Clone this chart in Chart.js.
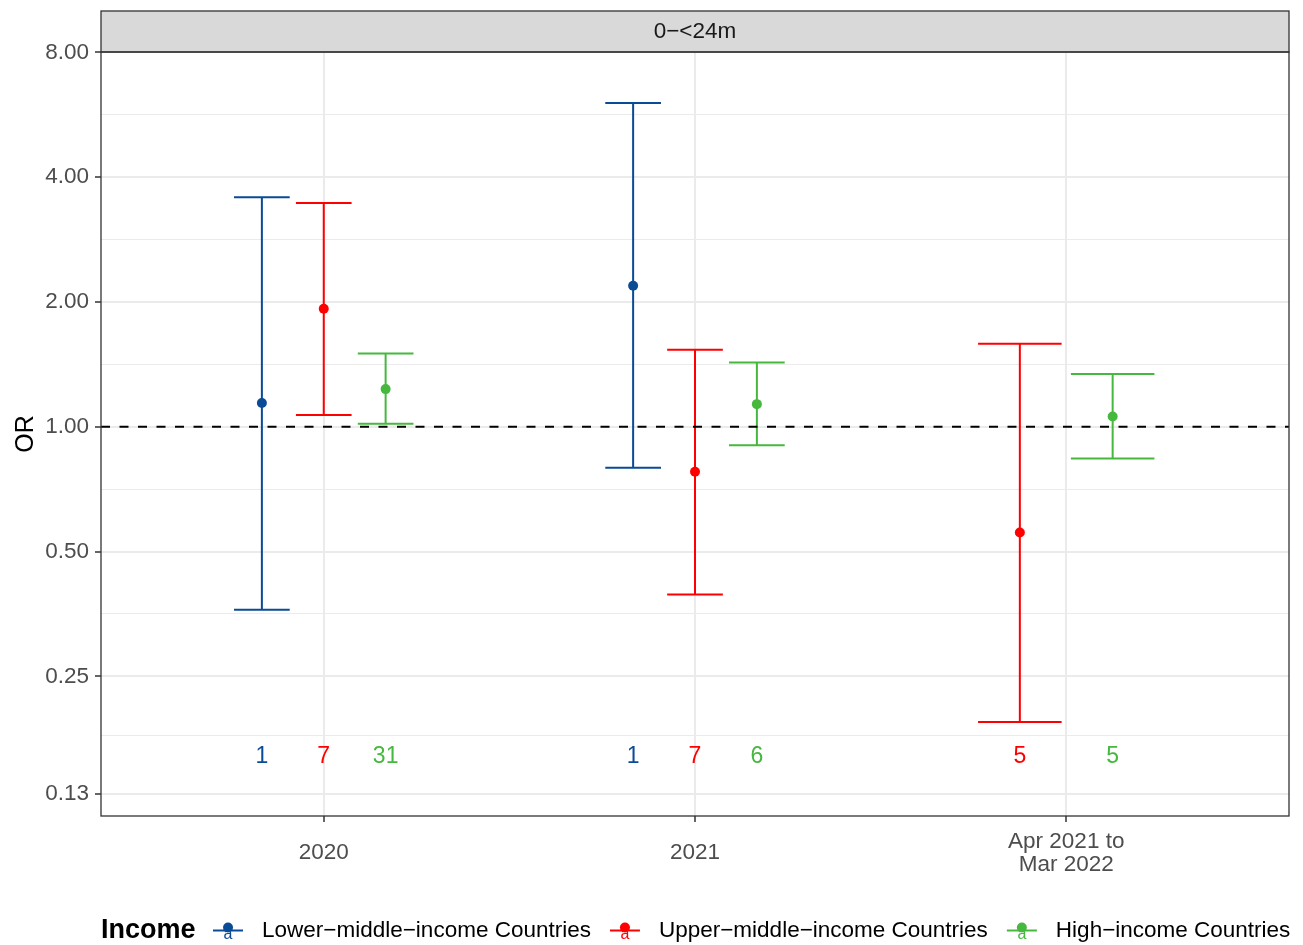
<!DOCTYPE html>
<html>
<head>
<meta charset="utf-8">
<script src="https://cdn.jsdelivr.net/npm/chart.js@4/dist/chart.umd.min.js"></script>
<style>
  html, body { margin: 0; padding: 0; background: #ffffff; }
  canvas { display: block; }
</style>
</head>
<body>
<canvas id="chart" width="1303" height="945"></canvas>
<script>
// ---- data ----
const categories = ['2020', '2021', ['Apr 2021 to', 'Mar 2022']];
const panelLabel = '0\u2212<24m';
const legendTitle = 'Income';
const seriesNames = [
  'Lower\u2212middle\u2212income Countries',
  'Upper\u2212middle\u2212income Countries',
  'High\u2212income Countries'
];
const seriesColors = ['#0A4B96', '#FF0000', '#45B83D'];

// odds ratio with 95% interval and number of studies, per category
const lowerMiddleOR   = [1.141, 2.189, null];
const lowerMiddleLow  = [0.362, 0.796, null];
const lowerMiddleHigh = [3.578, 6.040, null];
const lowerMiddleN    = [1, 1, null];

const upperMiddleOR   = [1.927, 0.779, 0.556];
const upperMiddleLow  = [1.067, 0.394, 0.194];
const upperMiddleHigh = [3.467, 1.534, 1.586];
const upperMiddleN    = [7, 7, 5];

const highOR   = [1.233, 1.134, 1.059];
const highLow  = [1.017, 0.902, 0.839];
const highHigh = [1.503, 1.430, 1.340];
const highN    = [31, 6, 5];

const yTickValues  = [0.13, 0.25, 0.5, 1, 2, 4, 8];
const yTickLabels  = ['0.13', '0.25', '0.50', '1.00', '2.00', '4.00', '8.00'];
const yMinorValues = [0.180, 0.354, 0.707, 1.414, 2.828, 5.657];
const referenceOR  = 1;
const countLabelY  = 0.161;

// ---- layout helpers ----
const FONT = '"Liberation Sans", Arial, Helvetica, sans-serif';
const dodgeWidth = 0.5;
const errorbarWidth = 0.45;

const seriesOR   = [lowerMiddleOR, upperMiddleOR, highOR];
const seriesLow  = [lowerMiddleLow, upperMiddleLow, highLow];
const seriesHigh = [lowerMiddleHigh, upperMiddleHigh, highHigh];
const seriesN    = [lowerMiddleN, upperMiddleN, highN];

// dodge positions: groups present in a category share the dodge width
const marks = [];
categories.forEach((cat, ci) => {
  const present = seriesOR.map((arr, si) => arr[ci] != null ? si : -1).filter(si => si >= 0);
  const n = present.length;
  const slot = dodgeWidth / n;
  present.forEach((si, k) => {
    marks.push({
      series: si,
      x: ci + 1 + (k - (n - 1) / 2) * slot,
      half: errorbarWidth / n / 2,
      or: seriesOR[si][ci],
      low: seriesLow[si][ci],
      high: seriesHigh[si][ci],
      n: seriesN[si][ci]
    });
  });
});

const datasets = seriesNames.map((name, si) => ({
  label: name,
  data: marks.filter(m => m.series === si).map(m => ({ x: m.x, y: m.or })),
  backgroundColor: seriesColors[si],
  borderColor: seriesColors[si],
  borderWidth: 0,
  pointRadius: 5,
  pointHoverRadius: 5,
  showLine: false
}));

const yAllTicks = yTickValues.concat(yMinorValues).sort((a, b) => a - b);
const isMajor = v => yTickValues.some(t => Math.abs(t - v) < 1e-9);

// ---- plugins ----
const errorBars = {
  id: 'errorBars',
  beforeDatasetsDraw(chart) {
    const { ctx, scales: { x, y }, chartArea } = chart;
    ctx.save();
    ctx.beginPath();
    ctx.rect(chartArea.left, chartArea.top, chartArea.right - chartArea.left, chartArea.bottom - chartArea.top);
    ctx.clip();
    ctx.lineWidth = 2;
    ctx.lineCap = 'butt';
    marks.forEach(m => {
      const px = x.getPixelForValue(m.x);
      const pl = x.getPixelForValue(m.x - m.half);
      const pr = x.getPixelForValue(m.x + m.half);
      const yl = y.getPixelForValue(m.low);
      const yh = y.getPixelForValue(m.high);
      ctx.strokeStyle = seriesColors[m.series];
      ctx.beginPath();
      ctx.moveTo(px, yl); ctx.lineTo(px, yh);
      ctx.moveTo(pl, yl); ctx.lineTo(pr, yl);
      ctx.moveTo(pl, yh); ctx.lineTo(pr, yh);
      ctx.stroke();
    });
    // study counts
    ctx.font = '23px ' + FONT;
    ctx.textAlign = 'center';
    ctx.textBaseline = 'middle';
    marks.forEach(m => {
      ctx.fillStyle = seriesColors[m.series];
      ctx.fillText(String(m.n), x.getPixelForValue(m.x), y.getPixelForValue(countLabelY) + 1);
    });
    ctx.restore();
  },
  afterDatasetsDraw(chart) {
    const { ctx, scales: { y }, chartArea } = chart;
    const yy = y.getPixelForValue(referenceOR);
    ctx.save();
    ctx.strokeStyle = '#000000';
    ctx.lineWidth = 2;
    ctx.setLineDash([9, 9.5]);
    ctx.beginPath();
    ctx.moveTo(chartArea.left, yy);
    ctx.lineTo(chartArea.right, yy);
    ctx.stroke();
    ctx.restore();
  }
};

const panelFrame = {
  id: 'panelFrame',
  afterDraw(chart) {
    const { ctx, chartArea: a } = chart;
    ctx.save();
    // facet strip
    const stripTop = 11;
    ctx.fillStyle = '#D9D9D9';
    ctx.fillRect(a.left, stripTop, a.right - a.left, a.top - stripTop);
    ctx.strokeStyle = '#333333';
    ctx.lineWidth = 1.3;
    ctx.strokeRect(a.left, stripTop, a.right - a.left, a.top - stripTop);
    ctx.fillStyle = '#1A1A1A';
    ctx.font = '22.5px ' + FONT;
    ctx.textAlign = 'center';
    ctx.textBaseline = 'middle';
    ctx.fillText(panelLabel, (a.left + a.right) / 2, (stripTop + a.top) / 2);
    // panel border
    ctx.strokeRect(a.left, a.top, a.right - a.left, a.bottom - a.top);

    // legend
    const ly = 930.5;
    ctx.textAlign = 'left';
    ctx.fillStyle = '#000000';
    ctx.font = 'bold 27px ' + FONT;
    let cx = a.left;
    ctx.fillText(legendTitle, cx, ly);
    cx += ctx.measureText(legendTitle).width + 17.5;
    seriesNames.forEach((name, si) => {
      const col = seriesColors[si];
      const kc = cx + 15;
      ctx.strokeStyle = col;
      ctx.lineWidth = 2;
      ctx.beginPath();
      ctx.moveTo(cx, ly); ctx.lineTo(cx + 30, ly);
      ctx.stroke();
      ctx.fillStyle = col;
      ctx.font = '16px ' + FONT;
      ctx.textAlign = 'center';
      ctx.fillText('a', kc, ly + 4);
      ctx.beginPath();
      ctx.arc(kc, ly - 3, 5, 0, Math.PI * 2);
      ctx.fill();
      ctx.textAlign = 'left';
      ctx.fillStyle = '#000000';
      ctx.font = '22.5px ' + FONT;
      const tx = cx + 49;
      ctx.fillText(name, tx, ly);
      cx = tx + ctx.measureText(name).width + 19;
    });
    ctx.restore();
  }
};

// ---- chart ----
new Chart(document.getElementById('chart'), {
  type: 'scatter',
  data: { datasets },
  plugins: [errorBars, panelFrame],
  options: {
    responsive: false,
    animation: false,
    events: [],
    layout: { padding: { left: 0, right: 14, top: 52, bottom: 0 } },
    plugins: { legend: { display: false }, tooltip: { enabled: false } },
    scales: {
      x: {
        type: 'linear',
        min: 0.4,
        max: 3.6,
        afterBuildTicks(scale) { scale.ticks = [1, 2, 3].map(v => ({ value: v })); },
        afterFit(scale) { scale.height = 129; },
        grid: {
          color: '#EBEBEB',
          lineWidth: 2,
          tickColor: '#333333',
          tickLength: 6,
          tickWidth: 1.5
        },
        border: { display: false },
        ticks: {
          autoSkip: false,
          maxRotation: 0,
          minRotation: 0,
          crossAlign: 'center',
          padding: 20,
          color: '#4D4D4D',
          font: { family: FONT, size: 22.5, lineHeight: 1.0 },
          callback: v => categories[Math.round(v) - 1]
        }
      },
      y: {
        type: 'logarithmic',
        min: 0.1151,
        max: 8.02,
        afterBuildTicks(scale) { scale.ticks = yAllTicks.map(v => ({ value: v })); },
        afterFit(scale) { scale.width = 101; },
        grid: {
          color: '#EBEBEB',
          lineWidth: ctx => (ctx.tick && isMajor(ctx.tick.value)) ? 2 : 1,
          tickColor: ctx => (ctx.tick && isMajor(ctx.tick.value)) ? '#333333' : 'rgba(0,0,0,0)',
          tickLength: 6,
          tickWidth: 1.5
        },
        border: { display: false },
        title: {
          display: true,
          text: 'OR',
          color: '#000000',
          font: { family: FONT, size: 25, lineHeight: 1.0 },
          padding: { top: 14, bottom: 0 }
        },
        ticks: {
          autoSkip: false,
          padding: 6,
          color: '#4D4D4D',
          font: { family: FONT, size: 22.5 },
          callback(v) {
            const i = yTickValues.findIndex(t => Math.abs(t - v) < 1e-9);
            return i >= 0 ? yTickLabels[i] : '';
          }
        }
      }
    }
  }
});
</script>
</body>
</html>
